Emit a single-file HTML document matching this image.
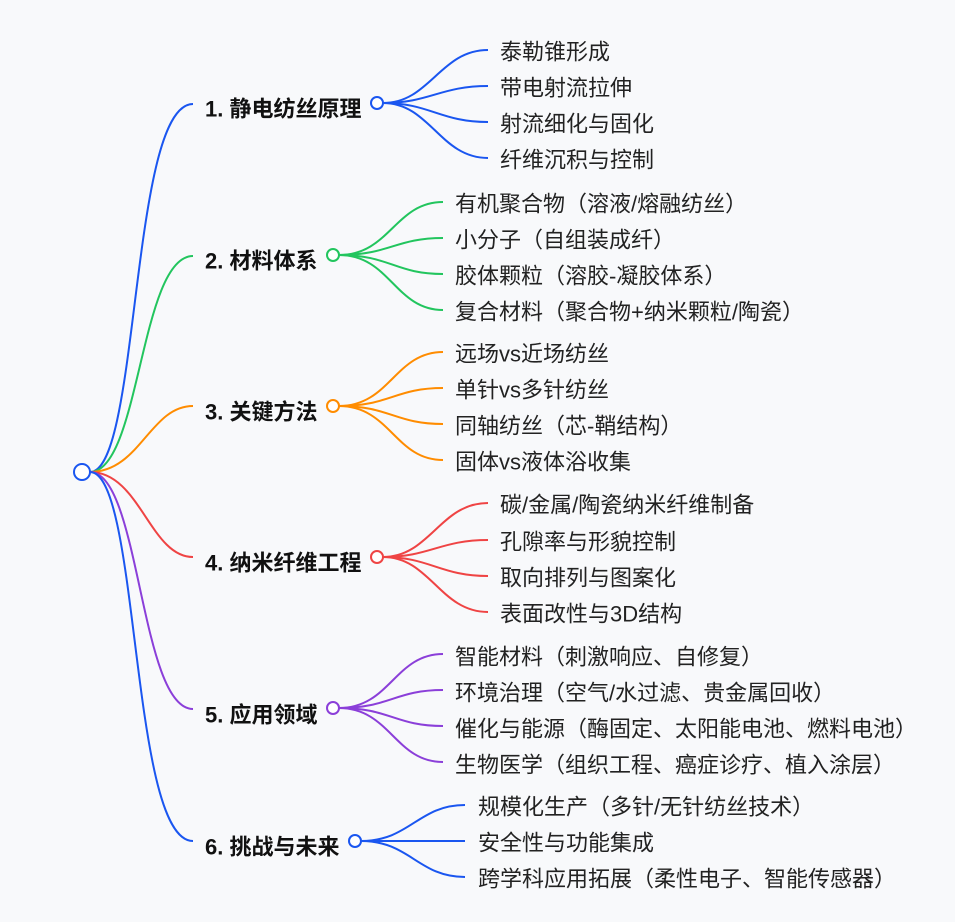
<!DOCTYPE html>
<html><head><meta charset="utf-8"><style>
html,body{margin:0;padding:0;background:#f8f9fb;}
svg{display:block}
text{font-family:"Liberation Sans","Noto Sans CJK SC",sans-serif;dominant-baseline:central;fill:#1a1a1a}
.b{font-size:22px;font-weight:bold;fill:#111}
.l{font-size:22px;fill:#222}
path{fill:none;stroke-width:2}
circle{fill:#fff;stroke-width:2}
</style></head><body>
<svg width="955" height="922" viewBox="0 0 955 922" xmlns="http://www.w3.org/2000/svg">
<path stroke="#1a56f0" d="M90 472 C140 472 130 104 193 104"/>
<path stroke="#22c55e" d="M90 472 C140 472 140 256 193 256"/>
<path stroke="#ff8c00" d="M90 472 C140 472 150 406 193 406"/>
<path stroke="#ef4444" d="M90 472 C140 472 150 557 193 557"/>
<path stroke="#8b3fd9" d="M90 472 C140 472 140 709 193 709"/>
<path stroke="#1a56f0" d="M90 472 C140 472 130 841 193 841"/>
<circle cx="82" cy="472" r="8" stroke="#1a56f0"/>

<g transform="translate(0,2)">
<text class="b" x="205" y="107">1. 静电纺丝原理</text>
<text class="l" x="500" y="50">泰勒锥形成</text>
<text class="l" x="500" y="86">带电射流拉伸</text>
<text class="l" x="500" y="122">射流细化与固化</text>
<text class="l" x="500" y="158">纤维沉积与控制</text>
<text class="b" x="205" y="259">2. 材料体系</text>
<text class="l" x="455" y="202">有机聚合物（溶液/熔融纺丝）</text>
<text class="l" x="455" y="238">小分子（自组装成纤）</text>
<text class="l" x="455" y="274">胶体颗粒（溶胶-凝胶体系）</text>
<text class="l" x="455" y="310">复合材料（聚合物+纳米颗粒/陶瓷）</text>
<text class="b" x="205" y="410">3. 关键方法</text>
<text class="l" x="455" y="352">远场vs近场纺丝</text>
<text class="l" x="455" y="388">单针vs多针纺丝</text>
<text class="l" x="455" y="424">同轴纺丝（芯-鞘结构）</text>
<text class="l" x="455" y="460">固体vs液体浴收集</text>
<text class="b" x="205" y="561">4. 纳米纤维工程</text>
<text class="l" x="500" y="503">碳/金属/陶瓷纳米纤维制备</text>
<text class="l" x="500" y="540">孔隙率与形貌控制</text>
<text class="l" x="500" y="576">取向排列与图案化</text>
<text class="l" x="500" y="612">表面改性与3D结构</text>
<text class="b" x="205" y="713">5. 应用领域</text>
<text class="l" x="455" y="655">智能材料（刺激响应、自修复）</text>
<text class="l" x="455" y="691">环境治理（空气/水过滤、贵金属回收）</text>
<text class="l" x="455" y="727">催化与能源（酶固定、太阳能电池、燃料电池）</text>
<text class="l" x="455" y="763">生物医学（组织工程、癌症诊疗、植入涂层）</text>
<text class="b" x="205" y="845">6. 挑战与未来</text>
<text class="l" x="478" y="805">规模化生产（多针/无针纺丝技术）</text>
<text class="l" x="478" y="841">安全性与功能集成</text>
<text class="l" x="478" y="877">跨学科应用拓展（柔性电子、智能传感器）</text>
</g>

<path stroke="#1a56f0" d="M383 103 C430 103 440 50 488 50"/>
<path stroke="#1a56f0" d="M383 103 C430 103 440 86 488 86"/>
<path stroke="#1a56f0" d="M383 103 C430 103 440 122 488 122"/>
<path stroke="#1a56f0" d="M383 103 C430 103 440 158 488 158"/>
<circle cx="377" cy="103" r="6" stroke="#1a56f0"/>

<path stroke="#22c55e" d="M339 255 C390 255 395 202 443 202"/>
<path stroke="#22c55e" d="M339 255 C390 255 395 238 443 238"/>
<path stroke="#22c55e" d="M339 255 C390 255 395 274 443 274"/>
<path stroke="#22c55e" d="M339 255 C390 255 395 310 443 310"/>
<circle cx="333" cy="255" r="6" stroke="#22c55e"/>

<path stroke="#ff8c00" d="M339 406 C390 406 395 352 443 352"/>
<path stroke="#ff8c00" d="M339 406 C390 406 395 388 443 388"/>
<path stroke="#ff8c00" d="M339 406 C390 406 395 424 443 424"/>
<path stroke="#ff8c00" d="M339 406 C390 406 395 460 443 460"/>
<circle cx="333" cy="406" r="6" stroke="#ff8c00"/>

<path stroke="#ef4444" d="M383 557 C430 557 440 503 488 503"/>
<path stroke="#ef4444" d="M383 557 C430 557 440 540 488 540"/>
<path stroke="#ef4444" d="M383 557 C430 557 440 576 488 576"/>
<path stroke="#ef4444" d="M383 557 C430 557 440 612 488 612"/>
<circle cx="377" cy="557" r="6" stroke="#ef4444"/>

<path stroke="#8b3fd9" d="M339 708 C390 708 395 654 443 654"/>
<path stroke="#8b3fd9" d="M339 708 C390 708 395 690 443 690"/>
<path stroke="#8b3fd9" d="M339 708 C390 708 395 726 443 726"/>
<path stroke="#8b3fd9" d="M339 708 C390 708 395 762 443 762"/>
<circle cx="333" cy="708" r="6" stroke="#8b3fd9"/>

<path stroke="#1a56f0" d="M361 841 C410 841 418 805 465 805"/>
<path stroke="#1a56f0" d="M361 841 L465 841"/>
<path stroke="#1a56f0" d="M361 841 C410 841 418 877 465 877"/>
<circle cx="355" cy="841" r="6" stroke="#1a56f0"/>
</svg>
</body></html>
